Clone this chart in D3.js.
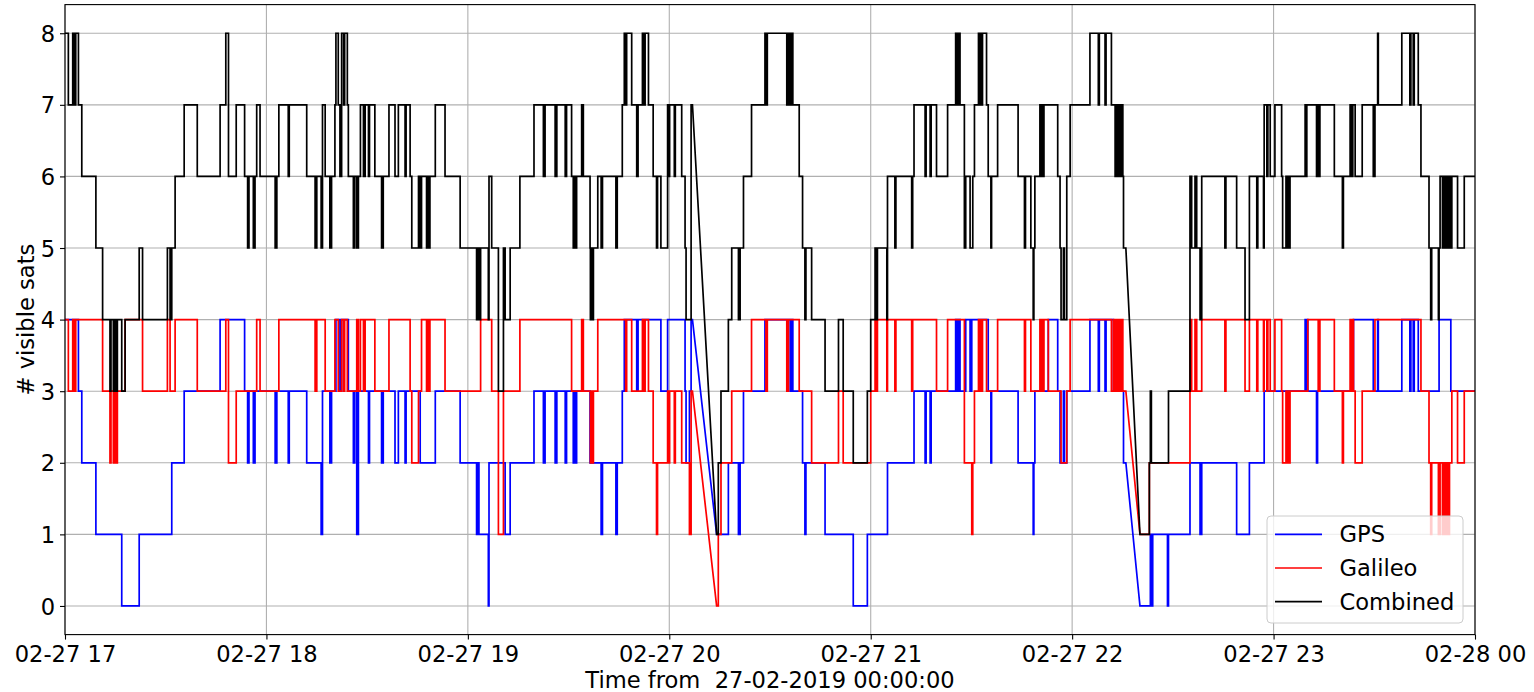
<!DOCTYPE html>
<html>
<head>
<meta charset="utf-8">
<script src="https://cdn.jsdelivr.net/npm/d3@7"></script>
<style>
  html, body { margin: 0; padding: 0; background: #ffffff; }
  svg { display: block; }
  text { font-family: "DejaVu Sans", sans-serif; }
</style>
</head>
<body>
<svg id="chart" width="1534" height="692"></svg>
<script>
// ---------------- DATA ----------------
// minutes after 2019-02-27 17:00 at which the number of visible satellites changes
const times = [
  0, 1.0, 2.3, 2.8, 3.2, 4.0, 5.0, 9.2, 11.2, 13.4, 13.7, 14.4, 14.9, 15.2, 15.6, 16.9, 17.9, 22.1, 23.1, 30.5, 31.3, 31.8, 32.8, 35.5, 39.4, 46.2, 47.9, 48.7, 51.0,
  53.5, 54.4, 54.8, 56.1, 56.6, 57.1, 58.1, 62.6, 63.1, 63.7, 66.5, 66.8, 72.0, 74.5, 75.0, 76.3, 76.7, 77.5, 78.9, 79.4, 80.4, 80.7, 81.4, 81.9, 82.4, 83.0, 83.3, 84.1, 84.4, 85.9, 86.3, 86.9, 87.4, 88.0, 88.9, 89.4, 90.4, 90.7, 92.3, 94.3, 94.8, 96.5, 98.3, 99.3, 101.3, 101.6, 102.8, 103.3,
  105.3, 105.8, 106.2, 107.7, 108.0, 108.3, 108.7, 110.3, 113.2, 117.7, 122.6, 123.0, 123.3, 123.8, 126.1, 126.3, 127.1, 129.1, 130.6, 131.1, 132.6, 135.5, 139.7, 142.5, 143.0, 146.0, 146.5, 149.0, 149.4, 150.9, 151.4, 151.8, 152.1, 152.4, 153.9, 154.4, 156.4,
  156.5, 156.8, 157.0, 157.4, 158.7, 159.7, 160.1, 164.1, 164.5, 166.0, 166.6, 167.0, 167.3, 168.8, 170.3, 170.7, 172.0, 172.5, 172.8, 173.8, 175.2, 176.2, 176.5, 177.5, 179.5, 179.7, 180.1, 181.5, 181.8, 183.7, 184.7, 185.0, 186.0, 186.5, 186.9, 194.1, 194.6, 195.4, 197.6, 198.6, 200.6, 201.1, 202.1, 204.5,
  208.5, 208.8, 209.2, 215.0, 215.5, 216.0, 216.3, 216.8, 218.7, 219.7, 220.4, 220.7, 222.4, 226.4, 230.4, 231.8, 234.8, 239.0, 240.0, 241.3, 241.8, 242.0, 244.8, 245.0, 247.2, 247.5, 252.2, 252.5, 252.9, 256.2, 256.5, 257.7, 258.0,
  259.6, 262.9, 265.3, 265.6, 265.8, 266.0, 266.2, 266.6, 267.9, 268.3, 269.6, 270.1, 270.4, 270.9, 272.1, 272.4, 272.7, 273.0, 273.3, 274.5, 275.0, 275.8, 276.0, 277.8, 283.9, 285.8, 286.1, 287.7, 288.4, 288.6, 288.9, 290.4, 290.8, 291.1, 291.4, 291.6, 292.9, 295.7, 296.4, 296.7, 297.4, 297.7, 298.4, 299.4, 305.3, 307.8, 308.1, 309.8, 310.1,
  311.7, 312.3, 312.8, 313.2, 313.7, 314.0, 314.4, 314.7, 315.1, 315.3, 316.0, 320.2, 323.0, 323.3, 323.6, 324.0, 328.4, 328.7, 335.1, 335.6, 336.6, 337.1, 338.1, 338.6, 345.5, 345.8, 349.0, 351.5, 352.8, 355.0, 355.3, 357.0, 357.2, 358.0, 358.3, 359.0, 360.4, 362.4, 362.7, 363.7,
  363.9, 364.2, 364.5, 364.9, 369.4, 369.7, 369.9, 370.2, 372.8, 373.1, 373.3, 373.8, 378.1, 380.5, 380.8, 382.8, 383.3, 383.6, 383.8, 384.3, 386.4, 389.7, 390.2, 391.0, 391.2, 398.2, 400.6, 400.9, 401.6, 401.9, 403.1, 403.9, 406.3, 406.8, 407.1, 409.1, 409.3, 409.6, 410.3, 410.6, 410.9, 411.2, 411.5, 411.8, 412.1, 412.4, 412.8, 413.1, 414.8, 416.8
];
const gps = [
  4,4,4,4,4,3,2,1,1,1,1,1,1,1,1,0,0,1,1,1,1,2,2,3,3,4,4,4,4,
  3,2,3,2,3,3,3,2,3,3, 2,3,2,2,2,1,3,3,2,3, 3,4,4,3,4,4,4,4,3,2, 3,1,3,3,3,3,2,3,3,2, 3,3,2,3,2,3,3,3,
  3,2,2,2,2,2,2,3,3,2, 1,2,1,1,0,2,2,2,2,1, 2,2,3,2,3,2,3,2,3,3, 2,3,2,3,3,3,2,
  2,2,2,2,2,1,2,1,2,3, 4,4,4,4,3,4,4,4,4,4, 4,4,4,3,4,4,4,4,4,4, 3,2,3,4,4,1,1,1,2,2, 1,2,3,3,
  4,4,4,4,4,3,4,3,3,2, 1,2,2,1,1,1,0,1,1,1, 1,1,1,2,2,2,2,2,3,2, 3,2,3,
  3,3,4,3,4,3,4,3,3,4, 3,4,4,4,4,4,4,4,4,4, 3,2,3,3,2,2,2,2,1,2, 3,3,3,3,3,3,4,3,2,2, 3,2,3,3,4,3,4,3,4,
  4,3,3,3,3,3,3,3,3,2, 2,0,0,1,0,1,0,1,2,2, 2,2,1,2,2,2,1,1,2,2, 2,2,3,3,3,3,3,3,3,3,
  3,3,3,3,4,3,4,3,2,3, 3,3,3,3,3,3,3,3,4,4, 4,3,3,4,3,4,3,4,3,4, 3,3,3,3,3,3,4,4,4,4, 4,4,4,4,4,4,3,3,3,3
];
const galileo = [
  4,3,4,3,4,4,4,4,3,2,3,2,3,2,3,3,4,4,3,4,3,3,4,4,3,3,4,2,3,
  3,3,3,3,3,4,3,3,3,4, 4,4,4,3,4,4,4,3,3,3, 4,4,3,3,4,3,4,3,3,3, 3,4,3,4,3,4,4,4,3,3, 3,4,4,4,4,4,3,2,
  3,3,4,3,4,3,4,4,3,3, 3,3,3,4,4,4,3,1,3,3, 3,4,4,4,4,4,4,4,4,3, 3,3,3,3,4,3,3,
  2,3,2,3,4,4,4,4,4,4, 4,3,4,3,3,3,4,3,4,3, 2,1,2,2,3,2,3,2,3,2, 2,2,1,3,3,0,1,2,2,3, 3,3,3,4,
  4,3,4,3,4,4,4,4,3,3, 3,3,2,2,3,2,2,2,3,4, 3,4,3,4,3,4,3,4,4,4, 4,4,4,
  3,4,4,4,4,4,4,4,2,2, 2,1,2,3,4,3,4,3,4,3, 3,3,3,4,4,3,4,3,3,3, 3,4,3,4,3,4,3,3,3,2, 2,2,3,4,4,4,4,4,4,
  3,4,3,4,3,4,3,4,3,3, 3,1,2,2,2,2,2,2,4,3, 4,3,3,4,3,4,4,3,4,3, 4,3,4,3,4,3,4,3,2,3,
  2,3,2,3,3,3,3,4,4,4, 3,4,3,2,3,4,3,4,3,2, 3,3,4,4,4,4,4,4,4,4, 4,3,2,1,2,1,1,2,1,2, 1,2,1,2,1,2,2,3,2,3
];
const combined = [
  8,7,8,7,8,7,6,5,4,3,4,3,4,3,4,3,4,5,4,5,4,5,6,7,6,7,8,6,7,
  6,5,6,5,6,7,6,5,6,7, 6,7,6,5,6,5,7,6,5,6, 7,8,7,6,8,7,8,7,6,5, 6,5,6,7,6,7,6,7,6,5, 6,7,6,7,6,7,6,5,
  6,5,6,5,6,5,6,7,6,5, 4,5,4,5,4,6,5,3,5,4, 5,6,7,6,7,6,7,6,7,6, 5,6,5,6,7,6,5,
  4,5,4,5,6,5,6,5,6,7, 8,7,8,7,6,7,8,7,8,7, 6,5,6,5,7,6,7,6,7,6, 5,4,4,7,7,1,2,3,4,5, 4,5,6,7,
  8,7,8,7,8,7,8,7,6,5, 4,5,4,3,4,3,2,3,4,5, 4,5,4,6,5,6,5,6,7,6, 7,6,7,
  6,7,8,7,8,7,8,7,5,6, 5,5,6,7,8,7,8,7,8,7, 6,5,6,7,6,5,6,5,4,5, 6,7,6,7,6,7,7,6,5,4, 5,4,6,7,8,7,8,7,8,
  7,7,6,7,6,7,6,7,6,5, 5,1,2,3,2,2,2,3,6,5, 6,5,4,6,5,6,5,4,6,5, 6,5,7,6,7,6,7,6,5,6,
  5,6,5,6,7,6,7,7,6,7, 6,7,6,5,6,7,6,7,7,6, 7,6,7,8,7,8,7,8,7,8, 7,6,5,4,5,4,5,6,5,6, 5,6,5,6,5,6,5,6,5,6
];
// receiver outages: the sample at this time is followed directly by the next one (drawn as a straight line)
const gapStarts = [186.9, 316.0];
const endMinute = 420;
const hourTicks = [0, 60, 120, 180, 240, 300, 360, 420];
const yTicks = [0, 1, 2, 3, 4, 5, 6, 7, 8];
const seriesNames = ["GPS", "Galileo", "Combined"];
const seriesColors = ["#0000ff", "#ff0000", "#000000"];

if (!(times.length === gps.length && gps.length === galileo.length && galileo.length === combined.length)) {
  console.error("length mismatch", times.length, gps.length, galileo.length, combined.length);
}

// ---------------- CHART ----------------
const W = 1534, H = 692;
const margin = { left: 65, right: 59, top: 4.6, bottom: 57.4 };
const svg = d3.select("#chart");
const T0 = Date.UTC(2019, 1, 27, 17, 0, 0);
const toDate = m => new Date(T0 + m * 60000);

const x = d3.scaleUtc()
  .domain([toDate(0), toDate(endMinute)])
  .range([margin.left, W - margin.right]);
const y = d3.scaleLinear()
  .domain([-0.4, 8.4])
  .range([H - margin.bottom, margin.top]);

const fs = 22.6;

// grid
const grid = svg.append("g");
grid.selectAll("line.gx").data(hourTicks).join("line")
  .attr("x1", d => x(toDate(d))).attr("x2", d => x(toDate(d)))
  .attr("y1", y.range()[1]).attr("y2", y.range()[0])
  .attr("stroke", "#b0b0b0").attr("stroke-width", 1.1);
grid.selectAll("line.gy").data(yTicks).join("line")
  .attr("x1", x.range()[0]).attr("x2", x.range()[1])
  .attr("y1", d => y(d)).attr("y2", d => y(d))
  .attr("stroke", "#b0b0b0").attr("stroke-width", 1.1);

// series
function vertices(vals) {
  const pts = [];
  for (let i = 0; i < times.length; i++) {
    pts.push([times[i], vals[i]]);
    const next = i + 1 < times.length ? times[i + 1] : endMinute;
    if (!gapStarts.includes(times[i])) pts.push([next, vals[i]]);
  }
  return pts;
}
const line = d3.line()
  .x(d => x(toDate(d[0])))
  .y(d => y(d[1]));

const allSeries = [gps, galileo, combined];
const plotG = svg.append("g");
plotG.append("clipPath").attr("id", "clip").append("rect")
  .attr("x", x.range()[0]).attr("y", y.range()[1])
  .attr("width", x.range()[1] - x.range()[0]).attr("height", y.range()[0] - y.range()[1]);
allSeries.forEach((vals, i) => {
  plotG.append("path")
    .attr("d", line(vertices(vals)))
    .attr("fill", "none")
    .attr("stroke", seriesColors[i])
    .attr("stroke-width", 1.7)
    .attr("stroke-linejoin", "miter")
    .attr("clip-path", "url(#clip)");
});

// axes
const xAxis = d3.axisBottom(x)
  .tickValues(hourTicks.map(toDate))
  .tickFormat(d3.utcFormat("%m-%d %H"))
  .tickSize(5).tickPadding(6);
const gx = svg.append("g")
  .attr("transform", `translate(0,${y.range()[0]})`)
  .call(xAxis);
gx.select(".domain").remove();
gx.selectAll("text").attr("font-size", fs).attr("font-family", "DejaVu Sans").attr("fill", "#000");
gx.selectAll("line").attr("stroke", "#000").attr("stroke-width", 1.1);

const yAxis = d3.axisLeft(y).tickValues(yTicks).tickFormat(d3.format("d")).tickSize(5).tickPadding(5);
const gy = svg.append("g")
  .attr("transform", `translate(${x.range()[0]},0)`)
  .call(yAxis);
gy.select(".domain").remove();
gy.selectAll("text").attr("font-size", fs).attr("font-family", "DejaVu Sans").attr("fill", "#000").attr("dy", "0.36em");
gy.selectAll("line").attr("stroke", "#000").attr("stroke-width", 1.1);

// frame
svg.append("rect")
  .attr("x", x.range()[0]).attr("y", y.range()[1])
  .attr("width", x.range()[1] - x.range()[0]).attr("height", y.range()[0] - y.range()[1])
  .attr("fill", "none").attr("stroke", "#000").attr("stroke-width", 1.1);

// axis labels
svg.append("text")
  .attr("x", (x.range()[0] + x.range()[1]) / 2).attr("y", 688)
  .attr("text-anchor", "middle").attr("font-size", fs)
  .text("Time from  27-02-2019 00:00:00")
  .style("white-space", "pre");
svg.append("text")
  .attr("transform", `translate(34,${(y.range()[0] + y.range()[1]) / 2}) rotate(-90)`)
  .attr("text-anchor", "middle").attr("font-size", fs)
  .text("# visible sats");

// legend
const lg = svg.append("g").attr("transform", "translate(1267,516)");
lg.append("rect").attr("width", 196).attr("height", 107).attr("rx", 4)
  .attr("fill", "#ffffff").attr("fill-opacity", 0.8)
  .attr("stroke", "#cccccc").attr("stroke-width", 1);
seriesNames.forEach((name, i) => {
  const cy = 18.3 + i * 33.7;
  lg.append("line").attr("x1", 8).attr("x2", 55).attr("y1", cy).attr("y2", cy)
    .attr("stroke", seriesColors[i]).attr("stroke-width", 1.7);
  lg.append("text").attr("x", 72.5).attr("y", cy).attr("dy", "0.36em")
    .attr("font-size", fs).text(name);
});
</script>
</body>
</html>
